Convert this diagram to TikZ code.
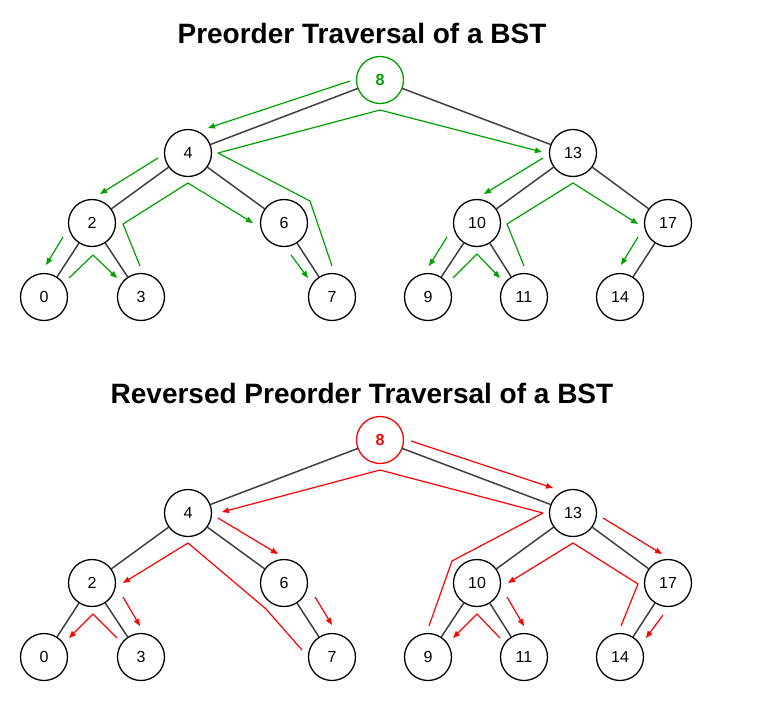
\documentclass[tikz,border=0pt]{standalone}
\usepackage{fontspec}
\setmainfont{Liberation Sans}
\usepackage{tikz}
\usetikzlibrary{arrows.meta}
\definecolor{pgreen}{RGB}{0,160,0}
\definecolor{pred}{RGB}{255,0,0}
\definecolor{edgegray}{RGB}{64,64,64}

\begin{document}
\begin{tikzpicture}[line cap=round,line join=round,>={Triangle[length=7pt,width=5.5pt]},x=1pt,y=-1pt,
  vertex/.style={circle,draw=black,line width=1.3pt,minimum size=47pt,inner sep=0pt,fill=white,font=\fontsize{16}{16}\selectfont},
  rootvertex/.style={vertex,font=\fontsize{16}{16}\selectfont\bfseries},
  edge/.style={draw=edgegray,line width=1.5pt},
  trav/.style={line width=1.2pt,line cap=butt},
  title/.style={anchor=base,font=\fontsize{28}{28}\selectfont\bfseries}]
\useasboundingbox (0,0) rectangle (761,702);
% titles
\node[title] (ttitle) at (362,43) {Preorder Traversal of a BST};
\node[title] (btitle) at (362,403) {Reversed Preorder Traversal of a BST};
% the two trees
\node[rootvertex,draw=pgreen,text=pgreen] (t8) at (380,80) {8};
\node[rootvertex,draw=pred,text=pred] (b8) at (380,440) {8};
\foreach \p/\dy in {t/0,b/360} {
  \foreach \n/\x/\y in {4/188/153,13/573/153,2/92/223,6/284/223,10/477/223,17/668/223,0/44/297,3/141/297,7/332/297,9/428/297,11/524/297,14/620/297}
    \node[vertex] (\p\n) at (\x,\y+\dy) {\n};
  \foreach \a/\b in {8/4,8/13,4/2,4/6,2/0,2/3,6/7,13/10,13/17,10/9,10/11,17/14}
    \draw[edge] (\p\a) -- (\p\b);
}
% preorder
\begin{scope}[trav,draw=pgreen,fill=pgreen]
\draw[->] (350,81) -- (208,128);
\draw[->] (332,266) -- (310,201) -- (218,153) -- (380,110) -- (542,152);
\draw[->] (158,158) -- (100,194);
\draw[->] (140,266) -- (123,224) -- (188,183) -- (253,223);
\draw[->] (63,237) -- (46,265);
\draw[->] (69,278) -- (93,255) -- (117,278);
\draw[->] (291,255) -- (308,278);
\draw[->] (543,158) -- (484,194);
\draw[->] (447,237) -- (429,266);
\draw[->] (453,278) -- (477,254) -- (500,278);
\draw[->] (524,266) -- (507,224) -- (573,183) -- (638,224);
\draw[->] (638,237) -- (621,265);
\end{scope}
% reversed preorder
\begin{scope}[trav,draw=pred,fill=pred]
\draw[->] (411,441) -- (553,488);
\draw[->] (603,518) -- (662,554);
\draw[->] (663,615) -- (646,638);
\draw[->] (621,626) -- (638,584) -- (573,543) -- (508,583);
\draw[->] (507,597) -- (524,626);
\draw[->] (500,638) -- (477,614) -- (453,638);
\draw[->] (429,626) -- (452,561) -- (543,513) -- (380,470) -- (222,512);
\draw[->] (218,518) -- (278,554);
\draw[->] (315,597) -- (332,625);
\draw[->] (302,650) -- (266,609) -- (188,543) -- (123,583);
\draw[->] (123,597) -- (140,626);
\draw[->] (117,638) -- (93,614) -- (69,638);
\end{scope}
\end{tikzpicture}
\end{document}
